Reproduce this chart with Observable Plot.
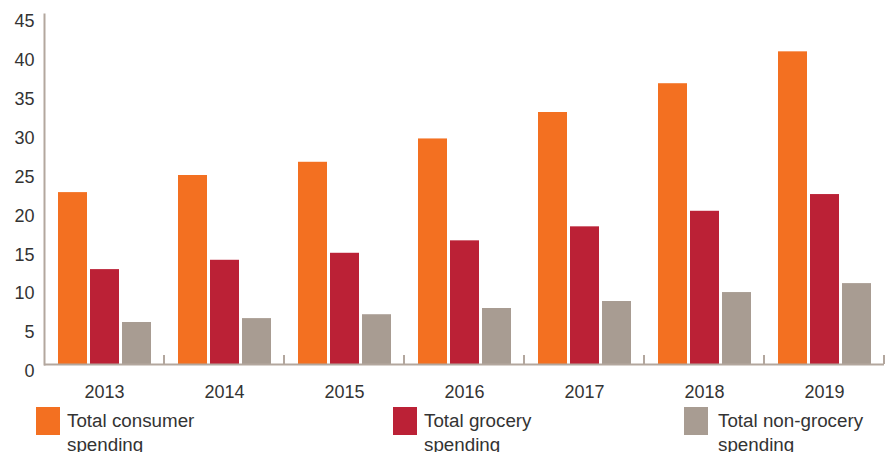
<!DOCTYPE html>
<html>
<head>
<meta charset="utf-8">
<script src="https://cdn.jsdelivr.net/npm/d3@7"></script>
<script src="https://cdn.jsdelivr.net/npm/@observablehq/plot@0.6"></script>
<style>
  body { margin: 0; background: #fff; font-family: "Liberation Sans", Arial, Helvetica, sans-serif; }
  #wrap { position: relative; width: 888px; height: 452px; overflow: hidden; background: #fff; }
  #chart svg { display: block; }
  .leg { position: absolute; top: 407px; display: flex; align-items: flex-start; }
  .sw { width: 24px; height: 28px; flex: none; }
  .lt { font-size: 18.8px; line-height: 24px; color: #333; margin-left: 7px; margin-top: 2px; white-space: nowrap; }
</style>
</head>
<body>
<div id="wrap">
  <div id="chart"></div>
  <div id="legend"></div>
</div>
<script>
// ---- data ----
const years = ["2013", "2014", "2015", "2016", "2017", "2018", "2019"];
const consumer = [22.1, 24.3, 26.0, 29.0, 32.4, 36.1, 40.2];
const grocery = [12.2, 13.4, 14.3, 15.9, 17.7, 19.7, 21.85];
const nonGrocery = [5.4, 5.9, 6.4, 7.2, 8.1, 9.25, 10.4];
const seriesNames = ["Total consumer spending", "Total grocery spending", "Total non-grocery spending"];
const legendLines = [["Total consumer", "spending"], ["Total grocery", "spending"], ["Total non-grocery", "spending"]];
const yTicks = [0, 5, 10, 15, 20, 25, 30, 35, 40, 45];

// ---- styles ----
const colors = ["#f37021", "#bb2136", "#a89c92"];
const axisColor = "#b3a79e";
const legendLeft = [36, 393, 684];

const seriesValues = [consumer, grocery, nonGrocery];
const rows = years.flatMap((yr, i) => seriesNames.map((s, k) => ({year: yr, series: s, value: seriesValues[k][i]})));

const plot = Plot.plot({
  width: 888,
  height: 402,
  marginLeft: 44,
  marginRight: 4,
  marginTop: 14,
  marginBottom: 38,
  style: {fontFamily: "'Liberation Sans', Arial, sans-serif", fontSize: "18px", color: "#333", background: "#fff"},
  fx: {domain: years, padding: 0, label: null, axis: null},
  x: {domain: seriesNames, paddingInner: 3 / 32, paddingOuter: 0.42, axis: null},
  y: {domain: [0, 45], axis: null},
  color: {domain: seriesNames, range: colors},
  marks: [
    Plot.barY(rows, {fx: "year", x: "series", y: "value", fill: "series"}),
    Plot.ruleY([0], {stroke: axisColor, strokeWidth: 2}),
    Plot.frame({anchor: "left", facetAnchor: "left", stroke: axisColor, strokeWidth: 2}),
    Plot.axisY({ticks: yTicks, tickSize: 0, tickPadding: 10, dy: 7, fontSize: 18, label: null, fill: "#333"}),
    Plot.axisFx({anchor: "bottom", tickSize: 0, tickPadding: 21, fontSize: 18, label: null, fill: "#333"})
  ]
});
document.getElementById("chart").appendChild(plot);

// boundary tick marks along the baseline, positioned with the plot's own scales
const fxs = plot.scale("fx");
const ys = plot.scale("y");
const bw = fxs.bandwidth;
const y0 = ys.apply(0);
const svg = d3.select(plot);
svg.append("g")
  .attr("stroke", axisColor)
  .attr("stroke-width", 2)
  .selectAll("line")
  .data(years)
  .join("line")
  .attr("x1", d => fxs.apply(d) + bw)
  .attr("x2", d => fxs.apply(d) + bw)
  .attr("y1", y0)
  .attr("y2", y0 - 9);

// legend
const legend = document.getElementById("legend");
seriesNames.forEach((s, k) => {
  const item = document.createElement("div");
  item.className = "leg";
  item.style.left = legendLeft[k] + "px";
  const sw = document.createElement("div");
  sw.className = "sw";
  sw.style.background = colors[k];
  const t = document.createElement("div");
  t.className = "lt";
  t.innerHTML = legendLines[k].join("<br>");
  if (k === 2) t.style.marginLeft = "10px";
  item.appendChild(sw);
  item.appendChild(t);
  legend.appendChild(item);
});
</script>
</body>
</html>
